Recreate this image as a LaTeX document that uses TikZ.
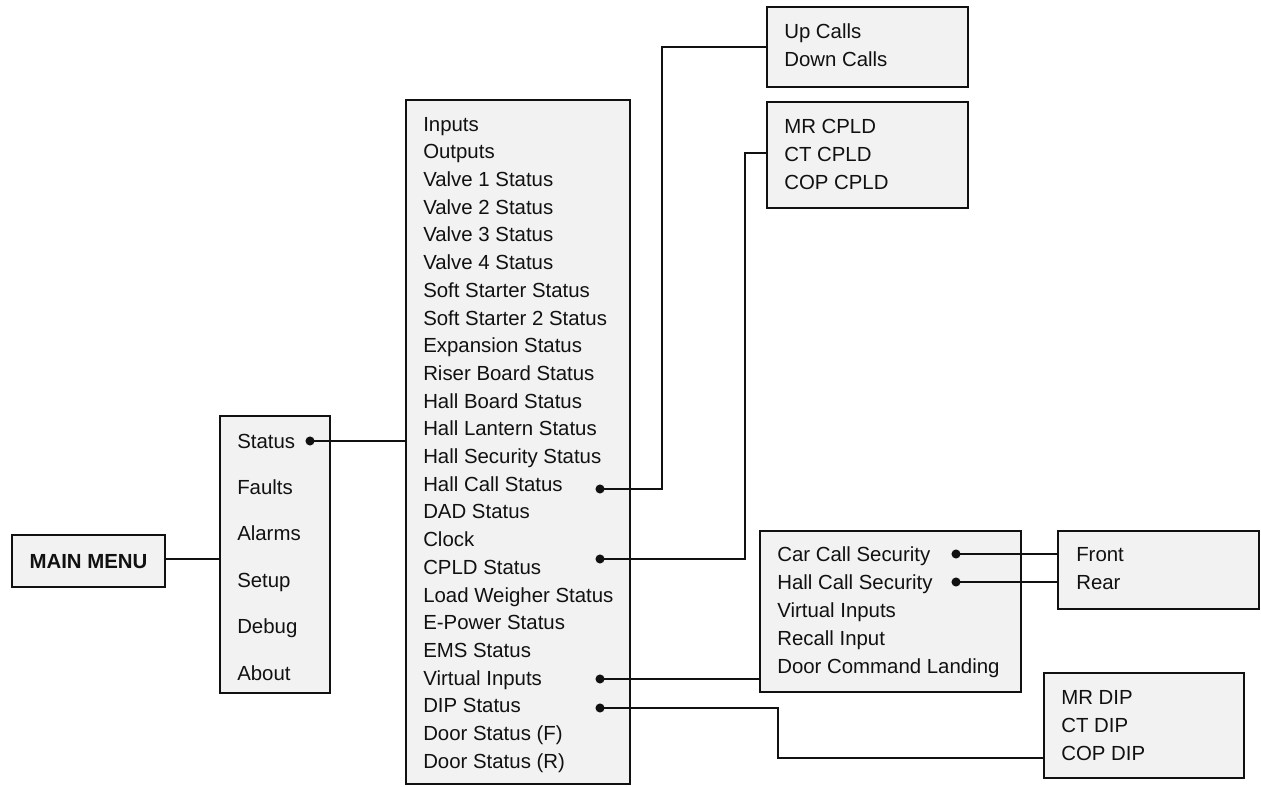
\documentclass[tikz,border=0pt]{standalone}
\usepackage{fontspec}
\setmainfont{Liberation Sans}
\usetikzlibrary{fit}
\definecolor{boxfill}{HTML}{F2F2F2}
\definecolor{ink}{HTML}{111111}
\tikzset{
  menubox/.style={draw=ink, fill=boxfill, line width=2.1pt, inner sep=0pt},
  item/.style={anchor=west, inner sep=0pt, text height=10.8pt, text depth=0pt, font=\fontsize{15.3}{18}\selectfont, text=ink},
  conn/.style={draw=ink, line width=2.2pt},
  dot/.style={fill=ink},
}
\begin{document}
\begin{tikzpicture}[x=0.75pt, y=-0.75pt]
\useasboundingbox (0,0) rectangle (1261,787);
% boxes
\node[menubox, fit={(12,535)(165,587)}] (mm) {};
\node[menubox, fit={(220,416)(330,693)}] (sub) {};
\node[menubox, fit={(406,100)(630,784)}] (stat) {};
\node[menubox, fit={(767,7)(968,87)}] (upb) {};
\node[menubox, fit={(767,102)(968,208)}] (cpldb) {};
\node[menubox, fit={(760,531)(1021,692)}] (secb) {};
\node[menubox, fit={(1058,531)(1259,609)}] (frb) {};
\node[menubox, fit={(1044,673)(1244,778)}] (dipb) {};
% main menu text
\node[inner sep=0pt, text height=10.8pt, text depth=0pt, font=\fontsize{15.3}{18}\selectfont\bfseries, text=ink] (mmt) at (mm.center) {MAIN MENU};
% sub menu items
\foreach \t [count=\i from 0] in {Status,Faults,Alarms,Setup,Debug,About}
  \node[item] (s\i) at (237,441+46.4*\i) {\t};
% status items
\foreach \t [count=\i from 0] in {Inputs,Outputs,Valve 1 Status,Valve 2 Status,Valve 3 Status,Valve 4 Status,Soft Starter Status,Soft Starter 2 Status,Expansion Status,Riser Board Status,Hall Board Status,Hall Lantern Status,Hall Security Status,Hall Call Status,DAD Status,Clock,CPLD Status,Load Weigher Status,E-Power Status,EMS Status,Virtual Inputs,DIP Status,Door Status (F),Door Status (R)}
  \node[item] (t\i) at (423,124+27.7*\i) {\t};
% up/down
\node[item] (u0) at (784,31) {Up Calls};
\node[item] (u1) at (784,59) {Down Calls};
% cpld
\node[item] (c0) at (784,126) {MR CPLD};
\node[item] (c1) at (784,154) {CT CPLD};
\node[item] (c2) at (784,182) {COP CPLD};
% security
\foreach \t [count=\i from 0] in {Car Call Security,Hall Call Security,Virtual Inputs,Recall Input,Door Command Landing}
  \node[item] (v\i) at (777,554+28*\i) {\t};
% front/rear
\node[item] (f0) at (1076,554) {Front};
\node[item] (f1) at (1076,582) {Rear};
% dip
\node[item] (d0) at (1061,697) {MR DIP};
\node[item] (d1) at (1061,725) {CT DIP};
\node[item] (d2) at (1061,753) {COP DIP};
% dot coordinates
\coordinate (dStatus) at (310,441);
\coordinate (dHall) at (600,489);
\coordinate (dCPLD) at (600,559);
\coordinate (dVirt) at (600,679);
\coordinate (dDIP) at (600,708);
\coordinate (dCar) at (956,554);
\coordinate (dHsec) at (956,582);
\coordinate (hallV) at (662,489);
\coordinate (cpldV) at (745,559);
\coordinate (dipA) at (778,708);
\coordinate (dipB) at (778,758);
% connectors
\draw[conn] (mm.east |- 0,559) -- (sub.west |- 0,559);
\draw[conn] (dStatus) -- (dStatus -| stat.west);
\draw[conn] (dHall) -- (hallV) |- (upb.west);
\draw[conn] (dCPLD) -- (cpldV) |- (cpldb.west |- 0,153);
\draw[conn] (dVirt) -- (dVirt -| secb.west);
\draw[conn] (dDIP) -- (dipA) -- (dipB) -- (dipB -| dipb.west);
\draw[conn] (dCar) -- (dCar -| frb.west);
\draw[conn] (dHsec) -- (dHsec -| frb.west);
% dots
\foreach \d in {dStatus,dHall,dCPLD,dVirt,dDIP,dCar,dHsec}
  \fill[dot] (\d) circle (3.4pt);
\end{tikzpicture}
\end{document}
